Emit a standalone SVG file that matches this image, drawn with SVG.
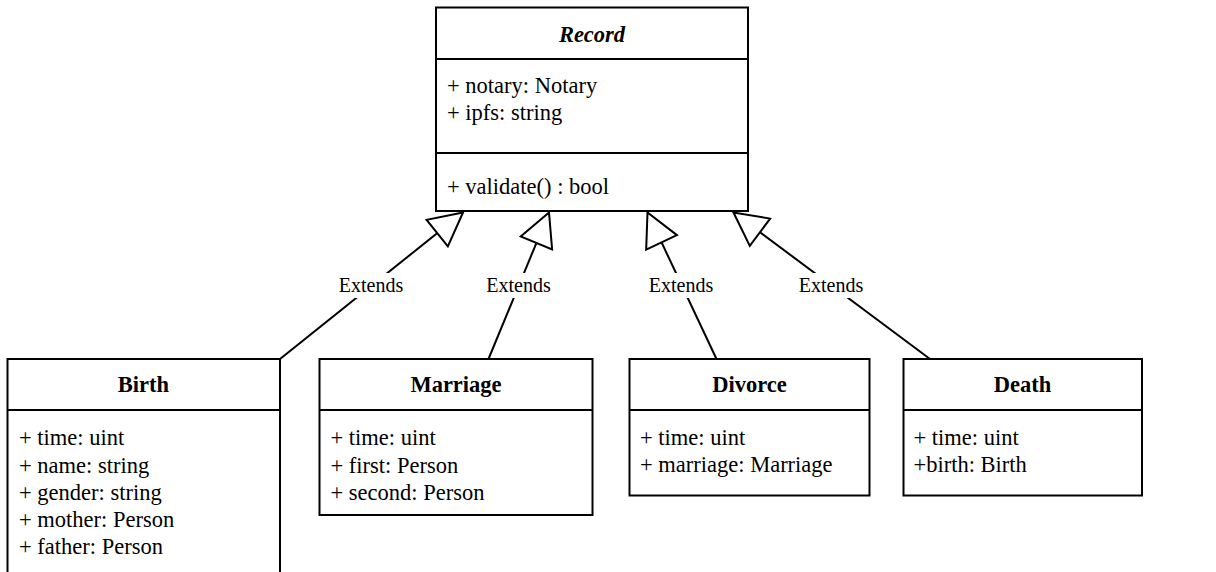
<svg xmlns="http://www.w3.org/2000/svg" width="1216" height="572" viewBox="0 0 1216 572">
  <style>
    .box { fill: #ffffff; stroke: #000000; stroke-width: 2; }
    .sep { stroke: #000000; stroke-width: 2; }
    text { font-family: 'Liberation Serif', 'DejaVu Serif', serif; fill: #000000; }
    .title { font-size: 22.5px; font-weight: bold; text-anchor: middle; }
    .abstract { font-style: italic; }
    .member { font-size: 22.5px; }
    .edge { fill: none; stroke: #000000; stroke-width: 2; marker-end: url(#inherit); }
    .label { font-size: 20px; text-anchor: middle; }
    .label-bg { fill: #ffffff; }
  </style>
  <defs>
    <!-- hollow generalization triangle -->
    <marker id="inherit" markerUnits="userSpaceOnUse" markerWidth="40" markerHeight="40" viewBox="-36 -20 40 40" refX="0" refY="0" orient="auto" overflow="visible">
      <path d="M0,0 L-33,-17 L-33,17 Z" fill="#ffffff" stroke="#000000" stroke-width="2" stroke-linejoin="miter"/>
    </marker>
  </defs>

  <rect width="1216" height="572" fill="#ffffff"/>

  <!-- generalization connectors -->
  <g id="connectors">
    <path class="edge" d="M280,359 L463,212.5"/>
    <path class="edge" d="M488.5,359 L549,212.5"/>
    <path class="edge" d="M716.5,359 L647.5,212.5"/>
    <path class="edge" d="M930,359 L733.5,212.5"/>
    <rect class="label-bg" x="337" y="273" width="68" height="25"/>
    <text class="label" x="371" y="292" font-family="Liberation Serif, serif">Extends</text>
    <rect class="label-bg" x="484" y="273" width="68" height="25"/>
    <text class="label" x="518.5" y="292">Extends</text>
    <rect class="label-bg" x="647" y="273" width="68" height="25"/>
    <text class="label" x="681" y="292">Extends</text>
    <rect class="label-bg" x="797" y="273" width="68" height="25"/>
    <text class="label" x="831" y="292">Extends</text>
  </g>

  <!-- abstract base record -->
  <g id="record">
    <rect class="box" x="436" y="7.5" width="312" height="203.5"/>
    <line class="sep" x1="436" y1="59" x2="748" y2="59"/>
    <line class="sep" x1="436" y1="153" x2="748" y2="153"/>
    <text class="title abstract" x="592" y="42">Record</text>
    <text class="member" x="447" y="93">+ notary: Notary</text>
    <text class="member" x="447" y="119.5">+ ipfs: string</text>
    <text class="member" x="447" y="194">+ validate() : bool</text>
  </g>

  <g id="birth">
    <rect class="box" x="7.5" y="359" width="272.5" height="240"/>
    <line class="sep" x1="7.5" y1="410" x2="280" y2="410"/>
    <text class="title" x="143.5" y="392">Birth</text>
    <text class="member" x="19" y="445">+ time: uint</text>
    <text class="member" x="19" y="472.5">+ name: string</text>
    <text class="member" x="19" y="500">+ gender: string</text>
    <text class="member" x="19" y="527">+ mother: Person</text>
    <text class="member" x="19" y="554">+ father: Person</text>
  </g>

  <g id="marriage">
    <rect class="box" x="319.5" y="359" width="273" height="156"/>
    <line class="sep" x1="319.5" y1="410" x2="592.5" y2="410"/>
    <text class="title" x="456" y="392">Marriage</text>
    <text class="member" x="330.5" y="445">+ time: uint</text>
    <text class="member" x="330.5" y="472.5">+ first: Person</text>
    <text class="member" x="330.5" y="499.5">+ second: Person</text>
  </g>

  <g id="divorce">
    <rect class="box" x="629.5" y="359" width="240" height="136.5"/>
    <line class="sep" x1="629.5" y1="410" x2="869.5" y2="410"/>
    <text class="title" x="749.5" y="392">Divorce</text>
    <text class="member" x="640" y="444.5">+ time: uint</text>
    <text class="member" x="640" y="471.5">+ marriage: Marriage</text>
  </g>

  <g id="death">
    <rect class="box" x="903.5" y="359" width="238.5" height="136.5"/>
    <line class="sep" x1="903.5" y1="410" x2="1142" y2="410"/>
    <text class="title" x="1022.5" y="392">Death</text>
    <text class="member" x="913.5" y="444.5">+ time: uint</text>
    <text class="member" x="913.5" y="471.5">+birth: Birth</text>
  </g>
</svg>
